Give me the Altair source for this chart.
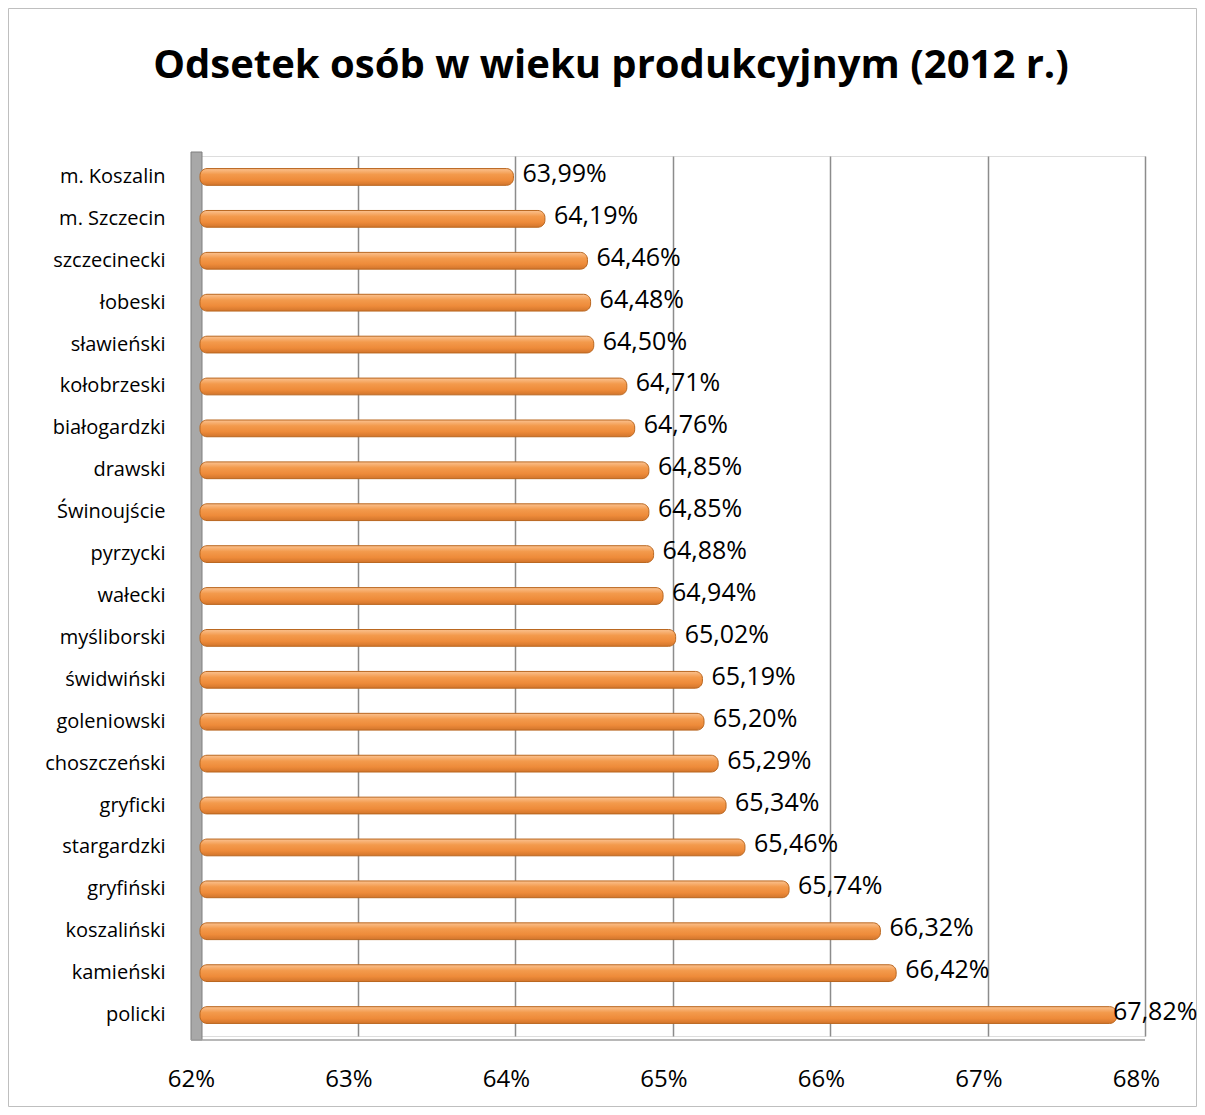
import altair as alt
import pandas as pd

categories = ["m. Koszalin", "m. Szczecin", "szczecinecki", "łobeski", "sławieński",
              "kołobrzeski", "białogardzki", "drawski", "Świnoujście", "pyrzycki",
              "wałecki", "myśliborski", "świdwiński", "goleniowski", "choszczeński",
              "gryficki", "stargardzki", "gryfiński", "koszaliński", "kamieński", "policki"]
values = [63.99, 64.19, 64.46, 64.48, 64.50, 64.71, 64.76, 64.85, 64.85, 64.88,
          64.94, 65.02, 65.19, 65.20, 65.29, 65.34, 65.46, 65.74, 66.32, 66.42, 67.82]
x_ticks = [62, 63, 64, 65, 66, 67, 68]
title_text = "Odsetek osób w wieku produkcyjnym (2012 r.)"

labels = [f"{v:.2f}".replace(".", ",") + "%" for v in values]
df = pd.DataFrame({"cat": categories, "v": values, "lab": labels})

FONT = "Open Sans"
PL, PT, W, H = 192, 148, 945, 880
TW, TH = 1189, 1099
PR, PB = TW - PL - W, TH - PT - H

ysc = alt.Scale(domain=categories, paddingInner=0.6, paddingOuter=0.3)
xsc = alt.Scale(domain=[62, 68], nice=False, zero=False)

base = alt.Chart(df)

grad = alt.LinearGradient(
    gradient="linear", x1=0, y1=0, x2=0, y2=1,
    stops=[alt.GradientStop(color="#FBC290", offset=0),
           alt.GradientStop(color="#F39A4C", offset=0.35),
           alt.GradientStop(color="#EE8B3A", offset=0.7),
           alt.GradientStop(color="#D2752C", offset=1)])

bars = base.mark_bar(fill=grad, stroke="#B9661F", strokeWidth=1, cornerRadius=7).encode(
    x=alt.X("v:Q", scale=xsc,
            axis=alt.Axis(values=x_ticks, labelExpr="datum.value + '%'", title=None,
                          grid=True, gridColor="#8C8C8C", gridWidth=1.5,
                          ticks=False, domain=False, labelFontSize=24, labelFont=FONT,
                          labelColor="#000000", labelPadding=31, labelOffset=-9,
                          labelFlush=False)),
    x2=alt.datum(62),
    y=alt.Y("cat:N", scale=ysc, sort=categories,
            axis=alt.Axis(title=None, ticks=False, domain=False, labelFontSize=20,
                          labelFont=FONT, labelColor="#000000", labelPadding=35,
                          labelLimit=300)),
)

text = base.transform_calculate(lx="min(datum.v, 67.74)").mark_text(
    align="left", baseline="middle", dx=9, dy=-3, fontSize=25,
    font=FONT, color="#000000").encode(
    x=alt.X("lx:Q", scale=xsc),
    y=alt.Y("cat:N", scale=ysc, sort=categories),
    text="lab:N",
)

one = alt.Chart(alt.Data(values=[{"t": title_text}]))
wall = one.mark_rect(fill="#A8A8A8", stroke="#7F7F7F", strokeWidth=1).encode(
    x=alt.value(-9), x2=alt.value(2), y=alt.value(-4), y2=alt.value(H + 4))
floor = one.mark_rule(color="#A0A0A0", strokeWidth=1.5).encode(
    x=alt.value(-9), x2=alt.value(W), y=alt.value(H + 4))
border = one.mark_rect(fill="transparent", stroke="#BFBFBF", strokeWidth=1).encode(
    x=alt.value(-PL + 0.5), x2=alt.value(W + PR - 0.5),
    y=alt.value(-PT + 0.5), y2=alt.value(H + PB - 0.5))
title = one.mark_text(align="center", baseline="alphabetic", fontSize=40, font=FONT,
                      fontWeight="bold", color="#000000").encode(
    x=alt.value(411), y=alt.value(-78), text="t:N")

chart = alt.layer(border, wall, floor, bars, text, title).properties(
    width=W, height=H,
    autosize=alt.AutoSizeParams(type="none"),
    padding={"left": PL, "top": PT, "right": PR, "bottom": PB},
).configure_view(stroke=None).configure(background="white")

chart.save("out.html", embed_options={"renderer": "svg", "actions": False})
